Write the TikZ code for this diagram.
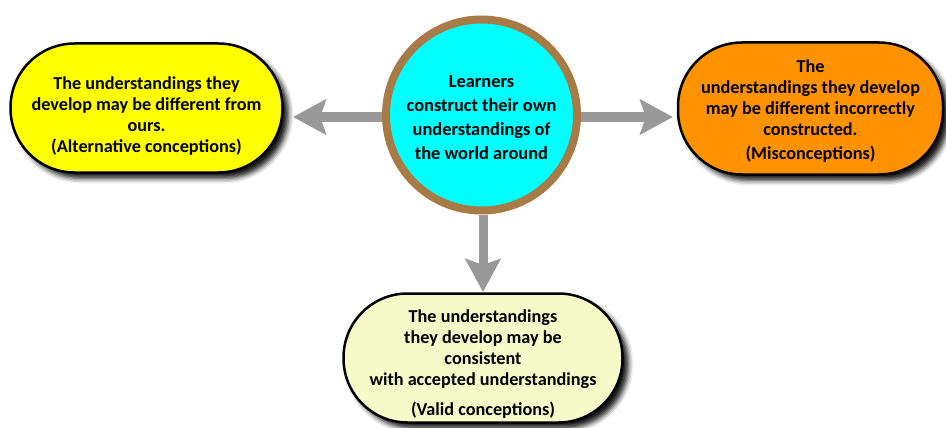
\documentclass[tikz,border=0pt]{standalone}
\usepackage{fontspec}
\setmainfont{Carlito}
\usetikzlibrary{arrows.meta,shadows.blur}
\definecolor{cyanfill}{HTML}{00FFFF}
\definecolor{brownring}{HTML}{A87A45}
\definecolor{yellowfill}{HTML}{FFFF00}
\definecolor{orangefill}{HTML}{FF9200}
\definecolor{palefill}{HTML}{F6FAC9}
\definecolor{arrowgray}{HTML}{999999}
\newcommand{\topstrut}[1]{\rule{0pt}{#1}}
\tikzset{
  pill/.style={draw=black, line width=2.5pt, rounded corners=64pt, align=center,
    inner sep=0pt, font=\fontsize{18.2}{21}\selectfont\bfseries,
    blur shadow={shadow xshift=6pt, shadow yshift=-6pt, shadow blur radius=5pt, shadow opacity=90}},
  hub/.style={circle, draw=brownring, line width=8pt, fill=cyanfill, minimum size=191pt,
    align=center, inner sep=0pt, font=\fontsize{18.4}{24}\selectfont\bfseries},
  bigarrow/.style={draw=arrowgray, line width=9pt,
    -{Stealth[length=33pt, width=35pt, inset=6pt, fill=arrowgray]}}
}
\begin{document}
\begin{tikzpicture}[x=1pt,y=-1pt]
\useasboundingbox (0,0) rectangle (946,428);
\node[hub] (c) at (481.5,115) {\topstrut{17.5pt}Learners\\construct their own\\understandings of\\the world around};
\node[pill, fill=yellowfill, minimum width=272pt, minimum height=129pt] (yb) at (146.5,108)
  {\topstrut{28pt}The understandings they\\develop may be different from\\ours.\\(Alternative conceptions)};
\node[pill, fill=orangefill, minimum width=265pt, minimum height=132pt] (ob) at (810.5,108.5)
  {\topstrut{17.5pt}The\\understandings they develop\\may be different incorrectly\\constructed.\\[3pt](Misconceptions)};
\node[pill, fill=palefill, minimum width=279pt, minimum height=129pt] (pb) at (483,358)
  {\topstrut{24.5pt}The understandings\\they develop may be\\consistent\\with accepted understandings\\[9pt](Valid conceptions)};
\coordinate (lt) at (293,117);
\coordinate (rt) at (673,117);
\coordinate (dt) at (483,292);
\draw[bigarrow] (c.west |- lt) -- (lt);
\draw[bigarrow] (c.east |- rt) -- (rt);
\draw[bigarrow] (c.south -| dt) -- (dt);
\end{tikzpicture}
\end{document}
